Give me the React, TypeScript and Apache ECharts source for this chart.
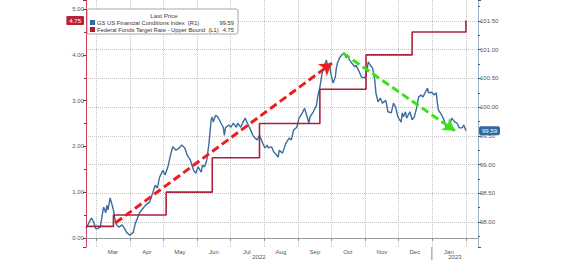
import React, { useEffect, useRef } from 'react';
import * as echarts from 'echarts';

// ---- Data ----
const fciDates = [
  '2022-02-20','2022-02-23','2022-02-25','2022-02-27','2022-03-01','2022-03-03','2022-03-05','2022-03-08','2022-03-10','2022-03-11',
  '2022-03-12','2022-03-14','2022-03-17','2022-03-19','2022-03-20','2022-03-22','2022-03-25','2022-03-27','2022-03-29','2022-04-01',
  '2022-04-04','2022-04-06','2022-04-10','2022-04-13','2022-04-15','2022-04-19','2022-04-22','2022-04-24','2022-04-26','2022-04-28',
  '2022-05-01','2022-05-03','2022-05-06','2022-05-08','2022-05-10','2022-05-13','2022-05-16','2022-05-18','2022-05-21','2022-05-23',
  '2022-05-26','2022-05-29','2022-05-31','2022-06-02','2022-06-05','2022-06-06','2022-06-08','2022-06-10','2022-06-12','2022-06-14',
  '2022-06-15','2022-06-16','2022-06-18','2022-06-20','2022-06-23','2022-06-25','2022-06-26','2022-06-27','2022-06-30','2022-07-02',
  '2022-07-04','2022-07-07','2022-07-08','2022-07-11','2022-07-13','2022-07-15','2022-07-17','2022-07-20','2022-07-22','2022-07-24',
  '2022-07-26','2022-07-28','2022-07-31','2022-08-02','2022-08-04','2022-08-05','2022-08-08','2022-08-10','2022-08-12','2022-08-14',
  '2022-08-15','2022-08-18','2022-08-21','2022-08-24','2022-08-26','2022-08-28','2022-08-31','2022-09-02','2022-09-05','2022-09-07',
  '2022-09-09','2022-09-11','2022-09-12','2022-09-15','2022-09-18','2022-09-19','2022-09-21','2022-09-23','2022-09-26','2022-09-27',
  '2022-09-28','2022-09-30','2022-10-01','2022-10-03','2022-10-05','2022-10-06','2022-10-07','2022-10-09','2022-10-11','2022-10-13',
  '2022-10-15','2022-10-16','2022-10-18','2022-10-20','2022-10-23','2022-10-24','2022-10-27','2022-10-29','2022-11-01','2022-11-03',
  '2022-11-04','2022-11-06','2022-11-08','2022-11-10','2022-11-11','2022-11-13','2022-11-15','2022-11-17','2022-11-20','2022-11-22',
  '2022-11-25','2022-11-27','2022-11-29','2022-12-01','2022-12-04','2022-12-05','2022-12-06','2022-12-08','2022-12-09','2022-12-12',
  '2022-12-14','2022-12-16','2022-12-18','2022-12-20','2022-12-22','2022-12-24','2022-12-26','2022-12-28','2022-12-29','2023-01-01',
  '2023-01-03','2023-01-05','2023-01-06','2023-01-07','2023-01-10','2023-01-12','2023-01-14','2023-01-16','2023-01-18','2023-01-19',
  '2023-01-22','2023-01-24','2023-01-26','2023-01-28','2023-01-29','2023-01-30','2023-02-01'
];
const fciValues = [
  97.89, 98.00, 98.07, 98.00, 97.88, 97.89, 97.91, 98.26, 98.16, 98.29,
  98.21, 98.42, 98.21, 97.98, 97.95, 97.91, 97.95, 97.89, 97.82, 97.77,
  97.82, 97.98, 98.17, 98.24, 98.29, 98.35, 98.52, 98.64, 98.59, 98.78,
  98.90, 98.82, 98.99, 99.17, 99.31, 99.25, 99.29, 99.34, 99.29, 99.17,
  99.08, 98.90, 98.85, 98.96, 98.87, 98.99, 98.96, 99.08, 99.37, 99.78,
  99.83, 99.74, 99.86, 99.83, 99.72, 99.65, 99.51, 99.64, 99.69, 99.65,
  99.72, 99.65, 99.72, 99.65, 99.74, 99.81, 99.72, 99.60, 99.51, 99.46,
  99.43, 99.51, 99.37, 99.29, 99.34, 99.29, 99.31, 99.22, 99.18, 99.13,
  99.25, 99.20, 99.37, 99.46, 99.43, 99.60, 99.65, 99.81, 99.90, 99.98,
  99.86, 99.72, 99.83, 99.92, 100.04, 100.18, 100.35, 100.59, 100.77, 100.82,
  100.70, 100.73, 100.59, 100.42, 100.52, 100.68, 100.77, 100.86, 100.91, 100.94,
  100.86, 100.91, 100.82, 100.77, 100.70, 100.73, 100.61, 100.52, 100.51, 100.65,
  100.79, 100.73, 100.68, 100.47, 100.25, 100.09, 100.16, 100.07, 100.12, 99.92,
  99.90, 100.07, 100.00, 99.83, 99.74, 99.90, 99.83, 99.92, 99.81, 99.92,
  99.78, 99.83, 99.98, 100.18, 100.21, 100.18, 100.26, 100.33, 100.25, 100.26,
  100.21, 100.25, 100.07, 99.95, 99.86, 99.78, 99.65, 99.69, 99.74, 99.81,
  99.74, 99.72, 99.64, 99.64, 99.65, 99.69, 99.59
];

const fedDates = ['2022-02-20','2022-03-17','2022-05-04','2022-06-15','2022-07-28','2022-09-21','2022-11-02','2022-12-14','2023-02-01'];
const fedValues = [0.25, 0.5, 1.0, 1.75, 2.5, 3.25, 4.0, 4.5, 4.75];

const xRange = ['2022-02-20', '2023-02-12'];
const yearStart = '2023-01-01';
const monthNames = ['Jan','Feb','Mar','Apr','May','Jun','Jul','Aug','Sep','Oct','Nov','Dec'];

const leftRange = [-0.2, 5.2];
const rightRange = [97.565, 101.866];

const redArrow = [['2022-03-19', 0.33], ['2022-10-02', 3.82]];
const greenArrow = [['2022-10-12', 4.04], ['2023-01-22', 2.34]];

const lastFci = 99.59;
const lastFed = 4.75;
const legendTitle = 'Last Price';
const legendRows = [
  { name: 'GS US Financial Conditions Index  (R1)', value: '99.59', color: '#2f6aa5' },
  { name: 'Federal Funds Target Rate - Upper Bound  (L1)', value: '4.75', color: '#b01e35' },
];

const ts = (s: string) => {
  const [y, m, d] = s.split('-').map(Number);
  return new Date(y, m - 1, d).getTime();
};

const FONT = '"Liberation Sans", Arial, sans-serif';
const BLUE = '#3a6d9f';
const RED = '#a8233a';
const CLEAR = 'rgba(0,0,0,0)';

export default function App() {
  const ref = useRef<HTMLDivElement>(null);

  useEffect(() => {
    if (!ref.current) return;
    const chart = echarts.init(ref.current, null, { renderer: 'svg' });

    const fciData = fciDates.map((d, i) => [ts(d), fciValues[i]]);
    const fedData = fedDates.map((d, i) => [ts(d), fedValues[i]]);

    const arrowItem = (pts: any[], color: string) => [
      {
        coord: [ts(pts[0][0]), pts[0][1]],
        symbol: 'none',
        lineStyle: { color, width: 3, type: [8, 4] },
        label: { show: false },
      },
      {
        coord: [ts(pts[1][0]), pts[1][1]],
        symbol: 'arrow',
        symbolSize: [11, 12],
        itemStyle: { color },
      },
    ];

    const option: any = {
      animation: false,
      backgroundColor: '#ffffff',
      textStyle: { fontFamily: FONT },
      grid: { left: 86, right: 86, top: 0, bottom: 13 },
      xAxis: {
        type: 'time',
        min: ts(xRange[0]),
        max: ts(xRange[1]),
        splitNumber: 12,
        minInterval: 28 * 86400000,
        maxInterval: 31 * 86400000,
        axisLine: { show: true, lineStyle: { color: '#9a9a9a', width: 1 } },
        axisTick: { show: true, length: 3, lineStyle: { color: '#8a8a8a' } },
        axisLabel: {
          fontSize: 6,
          color: '#555',
          fontFamily: FONT,
          margin: 2,
          padding: [0, 0, 0, 34],
          showMinLabel: false,
          showMaxLabel: false,
          formatter: (v: number) => {
            const d = new Date(v);
            if (d.getFullYear() === 2023 && d.getMonth() === 1) return '';
            return monthNames[d.getMonth()];
          },
        },
        splitLine: {
          show: true,
          showMinLine: false,
          showMaxLine: false,
          lineStyle: { type: 'dotted', color: '#c4c4c4', width: 1 },
        },
      },
      yAxis: [
        {
          type: 'value',
          position: 'left',
          min: leftRange[0],
          max: leftRange[1],
          splitNumber: 5,
          axisLine: { show: true, lineStyle: { color: '#d2405c', width: 1 } },
          axisTick: { show: true, length: 3, lineStyle: { color: '#a02035' } },
          minorTick: { show: true, splitNumber: 2, length: 2, lineStyle: { color: '#a02035' } },
          axisLabel: {
            fontSize: 6,
            color: '#555',
            fontFamily: FONT,
            margin: 2,
            showMinLabel: false,
            showMaxLabel: false,
            formatter: (v: number) => v.toFixed(2),
          },
          splitLine: { show: false },
        },
        {
          type: 'value',
          position: 'right',
          min: rightRange[0],
          max: rightRange[1],
          splitNumber: 8,
          axisLine: { show: true, lineStyle: { color: '#9db4cc', width: 1 } },
          axisTick: { show: true, length: 3, lineStyle: { color: '#2f5f90' } },
          minorTick: { show: true, splitNumber: 2, length: 2, lineStyle: { color: '#2f5f90' } },
          axisLabel: {
            fontSize: 6,
            color: '#555',
            fontFamily: FONT,
            margin: 2,
            showMinLabel: false,
            showMaxLabel: false,
            formatter: (v: number) => v.toFixed(2),
          },
          splitLine: {
            show: true,
            showMinLine: false,
            showMaxLine: false,
            lineStyle: { type: 'dotted', color: '#c4c4c4', width: 1 },
          },
        },
      ],
      series: [
        {
          name: 'Federal Funds Target Rate - Upper Bound',
          type: 'line',
          yAxisIndex: 0,
          step: 'end',
          data: fedData,
          showSymbol: false,
          lineStyle: { color: RED, width: 1.6 },
          z: 3,
          markLine: {
            silent: true,
            animation: false,
            symbol: 'none',
            data: [
              arrowItem(redArrow, '#ee1c1c'),
              arrowItem(greenArrow, '#3ee01c'),
            ],
          },
        },
        {
          name: 'GS US Financial Conditions Index',
          type: 'line',
          yAxisIndex: 1,
          data: fciData,
          showSymbol: false,
          lineStyle: { color: BLUE, width: 1.4 },
          z: 2,
        },
        {
          name: 'fed-last',
          type: 'line',
          yAxisIndex: 0,
          data: [],
          showSymbol: false,
          markLine: {
            silent: true,
            animation: false,
            symbol: 'none',
            lineStyle: { color: CLEAR, width: 1 },
            label: {
              show: true,
              position: 'start',
              distance: 2,
              formatter: lastFed.toFixed(2),
              color: '#fff',
              backgroundColor: '#b8233a',
              padding: [2, 3, 1, 3],
              borderRadius: 1,
              fontSize: 6,
              fontFamily: FONT,
            },
            data: [{ yAxis: lastFed }],
          },
        },
        {
          name: 'fci-last',
          type: 'line',
          yAxisIndex: 1,
          data: [],
          showSymbol: false,
          markLine: {
            silent: true,
            animation: false,
            symbol: 'none',
            lineStyle: { color: CLEAR, width: 1 },
            label: {
              show: true,
              position: 'end',
              distance: 1,
              formatter: lastFci.toFixed(2),
              color: '#fff',
              backgroundColor: '#2f6aa5',
              padding: [2, 3, 1, 3],
              borderRadius: 2,
              fontSize: 6,
              fontFamily: FONT,
            },
            data: [{ yAxis: lastFci }],
          },
        },
      ],
    };

    chart.setOption(option);

    // Positions for the year row, derived from the library's own x scale
    const xMin = chart.convertToPixel({ xAxisIndex: 0 }, ts(xRange[0])) as number;
    const xMax = chart.convertToPixel({ xAxisIndex: 0 }, ts(xRange[1])) as number;
    const xYear = chart.convertToPixel({ xAxisIndex: 0 }, ts(yearStart)) as number;
    const axisY = chart.convertToPixel({ yAxisIndex: 0 }, leftRange[0]) as number;

    const legendX = 87;
    const legendY = 9;
    const legendW = 151;
    const legendH = 25;

    const graphic: any[] = [
      {
        type: 'line',
        shape: { x1: xYear, y1: axisY, x2: xYear, y2: axisY + 14 },
        style: { stroke: '#8a8a8a', lineWidth: 1 },
        silent: true,
      },
      {
        type: 'text',
        x: (xMin + xYear) / 2,
        y: axisY + 10,
        style: { text: '2022', fill: '#555', fontSize: 6, fontFamily: FONT, align: 'center', verticalAlign: 'middle' },
        silent: true,
      },
      {
        type: 'text',
        x: (xYear + xMax) / 2,
        y: axisY + 10,
        style: { text: '2023', fill: '#555', fontSize: 6, fontFamily: FONT, align: 'center', verticalAlign: 'middle' },
        silent: true,
      },
      {
        type: 'group',
        x: legendX,
        y: legendY,
        z: 100,
        silent: true,
        children: [
          {
            type: 'rect',
            shape: { x: 0, y: 0, width: legendW, height: legendH, r: 2 },
            style: { fill: '#ffffff', stroke: '#a8a8a8', lineWidth: 1 },
          },
          {
            type: 'text',
            x: 77,
            y: 6.5,
            style: { text: legendTitle, fill: '#444', fontSize: 6.2, fontFamily: FONT, align: 'center', verticalAlign: 'middle' },
          },
          ...legendRows.flatMap((r, i) => [
            {
              type: 'rect',
              shape: { x: 3, y: 11 + i * 7, width: 5, height: 5 },
              style: { fill: r.color },
            },
            {
              type: 'text',
              x: 10,
              y: 13.7 + i * 7,
              style: { text: r.name, fill: '#333', fontSize: 5.8, fontFamily: FONT, align: 'left', verticalAlign: 'middle' },
            },
            {
              type: 'text',
              x: 147,
              y: 13.7 + i * 7,
              style: { text: r.value, fill: '#333', fontSize: 5.8, fontFamily: FONT, align: 'right', verticalAlign: 'middle' },
            },
          ]),
        ],
      },
    ];

    chart.setOption({ graphic });

    return () => {
      chart.dispose();
    };
  }, []);

  return (
    <div
      ref={ref}
      style={{ position: 'absolute', left: 0, top: 0, width: 564, height: 260, background: '#fff' }}
    />
  );
}
